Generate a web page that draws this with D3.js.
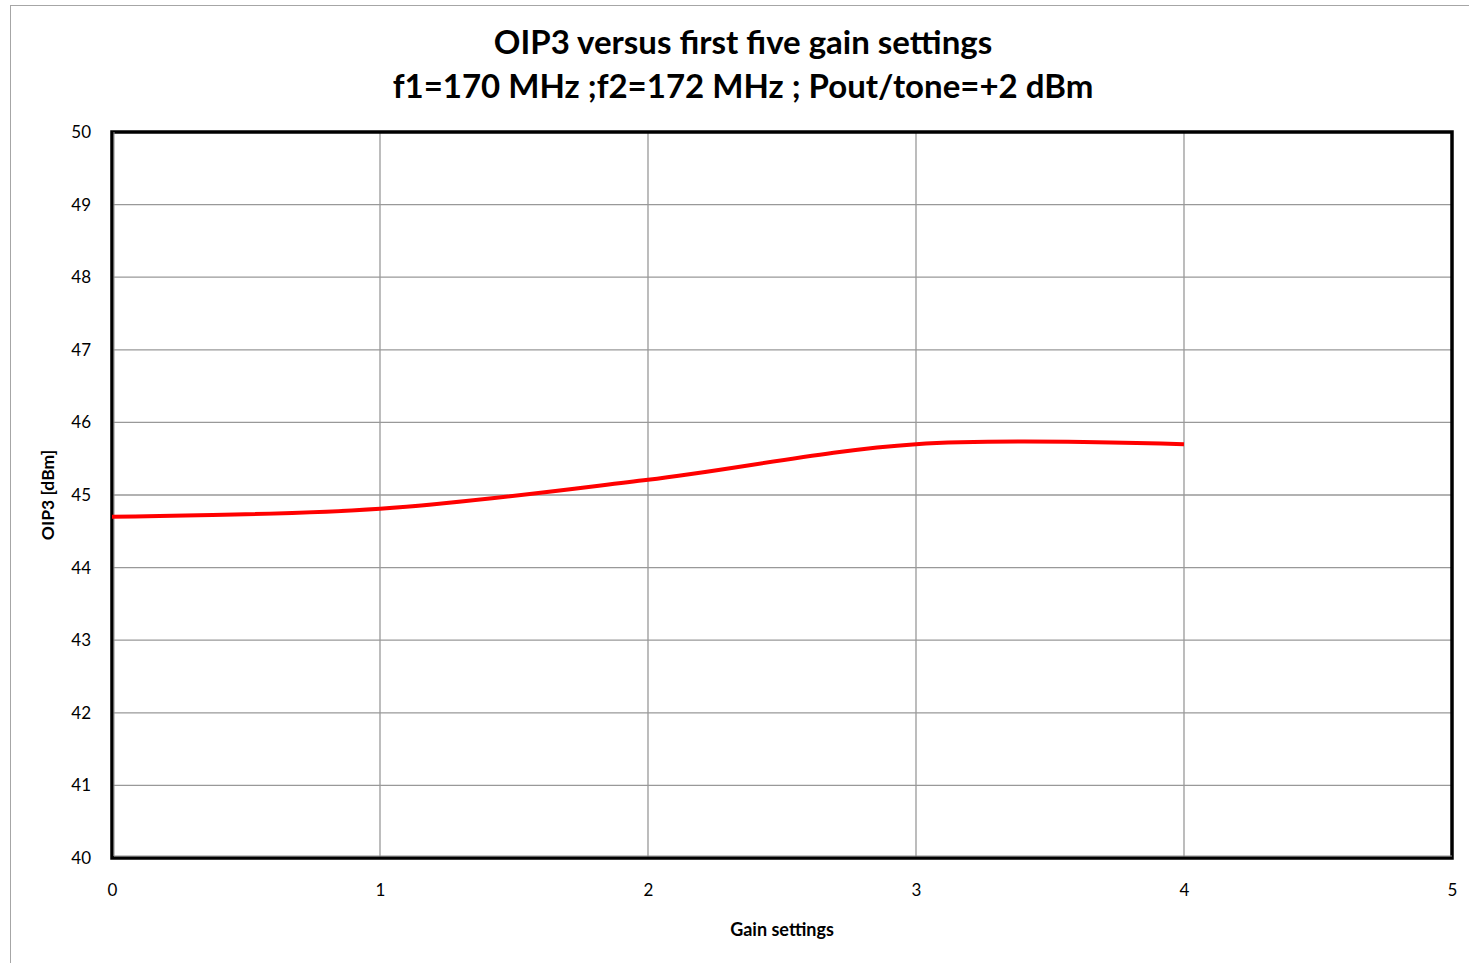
<!DOCTYPE html>
<html lang="en">
<head>
    <meta charset="UTF-8">
    <title>OIP3 versus first five gain settings</title>
    <script src="https://d3js.org/d3.v7.min.js"></script>
    <style>
        body { margin: 0; background: #fff; }
        text { font-family: Lato, "Open Sans", sans-serif; fill: #000; }
    </style>
</head>
<body>
    <div id="chart"></div>

    <script>
        // Data
        var gainSettings = [0, 1, 2, 3, 4];
        var oip3Values = [44.7, 44.81, 45.21, 45.7, 45.7];
        var xTicks = [0, 1, 2, 3, 4, 5];
        var yTicks = [40, 41, 42, 43, 44, 45, 46, 47, 48, 49, 50];
        var titleLines = ["OIP3 versus first five gain settings", "f1=170 MHz ;f2=172 MHz ; Pout/tone=+2 dBm"];

        var width = 1469, height = 963;
        var margin = { top: 132, right: 17, bottom: 105, left: 112 };

        var svg = d3.select("#chart")
            .append("svg")
            .attr("width", width)
            .attr("height", height);

        // Outer chart border
        svg.append("rect")
            .attr("x", 10.5)
            .attr("y", 5.5)
            .attr("width", width)
            .attr("height", height)
            .attr("fill", "none")
            .attr("stroke", "#a6a6a6")
            .attr("stroke-width", 1);

        var x = d3.scaleLinear()
            .domain([0, 5])
            .range([margin.left, width - margin.right]);

        var y = d3.scaleLinear()
            .domain([40, 50])
            .range([height - margin.bottom, margin.top]);

        // Gridlines
        svg.append("g")
            .selectAll("line")
            .data(yTicks)
            .enter()
            .append("line")
            .attr("x1", x(0))
            .attr("x2", x(5))
            .attr("y1", function (d) { return y(d); })
            .attr("y2", function (d) { return y(d); })
            .attr("stroke", "#999")
            .attr("stroke-width", 1.3);

        svg.append("g")
            .selectAll("line")
            .data(xTicks)
            .enter()
            .append("line")
            .attr("x1", function (d) { return x(d); })
            .attr("x2", function (d) { return x(d); })
            .attr("y1", y(40))
            .attr("y2", y(50))
            .attr("stroke", "#999")
            .attr("stroke-width", 1.3);

        // Plot area frame
        svg.append("rect")
            .attr("x", x(0))
            .attr("y", y(50))
            .attr("width", x(5) - x(0))
            .attr("height", y(40) - y(50))
            .attr("fill", "none")
            .attr("stroke", "#000")
            .attr("stroke-width", 3.5);

        svg.append("path")
            .attr("d", "M" + (x(0) + 2) + "," + y(50) + "V" + (y(40) - 2) + "H" + x(5))
            .attr("fill", "none")
            .attr("stroke", "#8c8c8c")
            .attr("stroke-width", 1);

        // Axes (labels only)
        var xAxis = svg.append("g")
            .attr("transform", "translate(0," + (y(40) + 23) + ")")
            .call(d3.axisBottom(x).tickValues(xTicks).tickSize(0).tickFormat(d3.format("d")));
        xAxis.select(".domain").remove();
        xAxis.selectAll("text")
            .style("font-size", "17px")
            .attr("dy", "0.71em");

        var yAxis = svg.append("g")
            .attr("transform", "translate(" + (x(0) - 18) + ",0)")
            .call(d3.axisLeft(y).tickValues(yTicks).tickSize(0).tickFormat(d3.format("d")));
        yAxis.select(".domain").remove();
        yAxis.selectAll("text")
            .style("font-size", "17px");

        // Data line
        var line = d3.line()
            .x(function (d, i) { return x(gainSettings[i]); })
            .y(function (d) { return y(d); })
            .curve(d3.curveCardinal.tension(0));

        svg.append("path")
            .datum(oip3Values)
            .attr("d", line)
            .attr("fill", "none")
            .attr("stroke", "#ff0000")
            .attr("stroke-width", 4);

        // Title
        svg.selectAll(".title")
            .data(titleLines)
            .enter()
            .append("text")
            .attr("class", "title")
            .attr("x", 743)
            .attr("y", function (d, i) { return 54 + i * 44; })
            .attr("text-anchor", "middle")
            .style("font-size", "33px")
            .style("font-weight", "bold")
            .text(function (d) { return d; });

        // Axis titles
        svg.append("text")
            .attr("x", 782)
            .attr("y", 936)
            .attr("text-anchor", "middle")
            .style("font-size", "18px")
            .style("font-weight", "bold")
            .text("Gain settings");

        svg.append("text")
            .attr("text-anchor", "middle")
            .attr("transform", "translate(54," + ((y(40) + y(50)) / 2) + ") rotate(-90)")
            .style("font-size", "17.5px")
            .style("font-weight", "bold")
            .text("OIP3 [dBm]");
    </script>
</body>
</html>
